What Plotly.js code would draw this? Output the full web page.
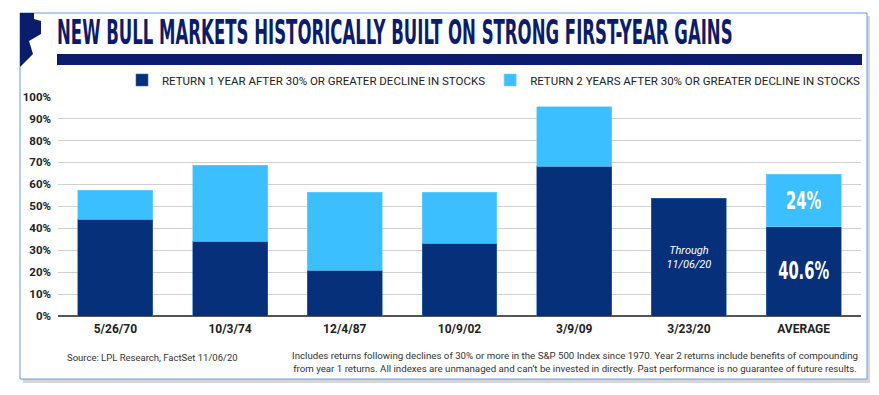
<!DOCTYPE html>
<html>
<head>
<meta charset="utf-8">
<script src="https://cdn.plot.ly/plotly-3.0.1.min.js"></script>
<style>html,body{margin:0;padding:0;background:#fff;}#chart{width:879px;height:395px;}</style>
</head>
<body>
<div id="chart"></div>
<script>
// ---- data ----
var categories = ["5/26/70", "10/3/74", "12/4/87", "10/9/02", "3/9/09", "3/23/20", "AVERAGE"];
var year1Returns = [44.1, 34.1, 20.8, 33.2, 68.2, 53.6, 40.6];
var year2Additional = [13.2, 34.7, 35.6, 23.2, 27.3, null, 24.0];
var year1Labels = ["", "", "", "", "", "<i>Through<br>11/06/20</i>", "<b>40.6%</b>"];
var year2Labels = ["", "", "", "", "", "", "<b>24%</b>"];
var yTicks = [0, 10, 20, 30, 40, 50, 60, 70, 80, 90, 100];
var seriesNames = ["RETURN 1 YEAR AFTER 30% OR GREATER DECLINE IN STOCKS",
                   "RETURN 2 YEARS AFTER 30% OR GREATER DECLINE IN STOCKS"];

// ---- layout helpers (pixel -> paper) ----
var W = 879, H = 395, ML = 58, MR = 18, MT = 96, MB = 79;
var PW = W - ML - MR, PH = H - MT - MB;
function px(x) { return (x - ML) / PW; }
function py(y) { return (H - MB - y) / PH; }

var dark = "#06307a", light = "#3bbfff", navy = "#0c1c6c";
var condensed = "Liberation Sans Narrow, DejaVu Sans Condensed, Arial Narrow, sans-serif";

var trace1 = {
  type: "bar", name: seriesNames[0], x: categories, y: year1Returns,
  marker: {color: dark, line: {color: "#2f6fc0", width: 0.6}},
  text: year1Labels, textposition: "inside", insidetextanchor: "middle", textangle: 0,
  textfont: {color: "#ffffff", family: ["Roboto", "Roboto", "Roboto", "Roboto", "Roboto", "Roboto", condensed],
             size: [11, 11, 11, 11, 11, 11, 24]},
  constraintext: "none", hoverinfo: "skip"
};
var trace2 = {
  type: "bar", name: seriesNames[1], x: categories, y: year2Additional,
  marker: {color: light, line: {color: "#6fd3ff", width: 0.6}},
  text: year2Labels, textposition: "inside", insidetextanchor: "middle", textangle: 0,
  textfont: {color: "#ffffff", family: condensed, size: 24},
  constraintext: "none", hoverinfo: "skip"
};

var shapes = [
  // frame shadow
  {type: "rect", xref: "paper", yref: "paper", x0: px(23), x1: px(870), y0: py(16), y1: py(383),
   fillcolor: "rgba(0,0,0,0.16)", line: {width: 0}, layer: "below"},
  {type: "rect", xref: "paper", yref: "paper", x0: px(20), x1: px(867), y0: py(13), y1: py(379),
   fillcolor: "#ffffff", line: {color: "#6d9ad8", width: 1}, layer: "below"},
  // navy rule under title
  {type: "rect", xref: "paper", yref: "paper", x0: px(57), x1: px(862), y0: py(54), y1: py(65),
   fillcolor: navy, line: {width: 0}, layer: "above"},
  // logo pennant
  {type: "path", xref: "paper", yref: "paper", fillcolor: navy, line: {width: 0}, layer: "above",
   path: "M " + px(20) + "," + py(13) + " L " + px(34) + "," + py(13) + " L " + px(34) + "," + py(19) +
         " L " + px(41) + "," + py(21) + " L " + px(41) + "," + py(34) + " L " + px(29) + "," + py(41) +
         " L " + px(33) + "," + py(54) + " L " + px(20) + "," + py(67) + " Z"}
];

var annotations = [
  {xref: "paper", yref: "paper", x: px(65), y: py(357), xanchor: "left", yanchor: "middle", showarrow: false,
   text: "Source: LPL Research, FactSet 11/06/20", font: {family: "Roboto", size: 9.5, color: "#333"}},
  {xref: "paper", yref: "paper", x: px(574.5), y: py(362), xanchor: "center", yanchor: "middle", showarrow: false,
   align: "center",
   text: "Includes returns following declines of 30% or more in the S&P 500 Index since 1970. Year 2 returns include benefits of compounding<br>from year 1 returns. All indexes are unmanaged and can\u2019t be invested in directly. Past performance is no guarantee of future results.",
   font: {family: "Roboto", size: 9.7, color: "#333"}}
];

var layout = {
  width: W, height: H,
  margin: {l: ML, r: MR, t: MT, b: MB, pad: 0},
  paper_bgcolor: "#ffffff", plot_bgcolor: "rgba(0,0,0,0)",
  barmode: "stack", bargap: 0.347,
  title: {text: "<b>NEW BULL MARKETS HISTORICALLY BUILT ON STRONG FIRST-YEAR GAINS</b>",
          font: {family: condensed, size: 33, color: navy},
          xref: "container", yref: "container", x: 57 / W, xanchor: "left", y: 1 - 32 / H, yanchor: "middle"},
  xaxis: {type: "category", showgrid: false, showline: false, ticks: "", ticklabelstandoff: 4,
          tickfont: {family: "Roboto", size: 12, color: "#222", weight: "bold"}},
  yaxis: {range: [0, 100.3], tickvals: yTicks, ticktext: yTicks.map(function(v){return v + "%";}),
          showgrid: true, gridcolor: "#d0d0d0", gridwidth: 1,
          zeroline: true, zerolinecolor: "#555", zerolinewidth: 1.2,
          ticks: "", ticklabelstandoff: 6,
          tickfont: {family: "Roboto", size: 11.5, color: "#222", weight: "bold"}},
  showlegend: true,
  legend: {orientation: "h", xref: "paper", yref: "paper", x: px(866), xanchor: "right", y: py(80), yanchor: "middle",
           traceorder: "normal", itemwidth: 30, font: {family: "Roboto", size: 11.5, color: "#222"},
           bgcolor: "rgba(0,0,0,0)"},
  shapes: shapes, annotations: annotations
};

function squeeze(el, s, anchorCenter) {
  var bb = el.getBBox();
  var x0 = anchorCenter ? bb.x + bb.width / 2 : bb.x;
  var prev = el.getAttribute("transform") || "";
  el.setAttribute("transform", prev + " translate(" + (x0 * (1 - s)) + ",0) scale(" + s + ",1)");
}

Plotly.newPlot("chart", [trace1, trace2], layout, {displayModeBar: false, staticPlot: true}).then(function(gd) {
  // compress the headline horizontally to match the condensed display face
  var t = gd.querySelector(".gtitle");
  if (t) {
    var w = t.getBBox().width;
    if (w > 676) squeeze(t, 676 / w, false);
  }
  // compress the big average figures the same way
  var texts = gd.querySelectorAll("text.bartext");
  var s = null;
  texts.forEach(function(el) {
    if (/40\.6%/.test(el.textContent)) { var w = el.getBBox().width; s = w > 51 ? 51 / w : 1; }
  });
  if (s !== null && s < 1) {
    texts.forEach(function(el) { if (/%$/.test(el.textContent.trim())) squeeze(el, s, true); });
  }
});
</script>
</body>
</html>
